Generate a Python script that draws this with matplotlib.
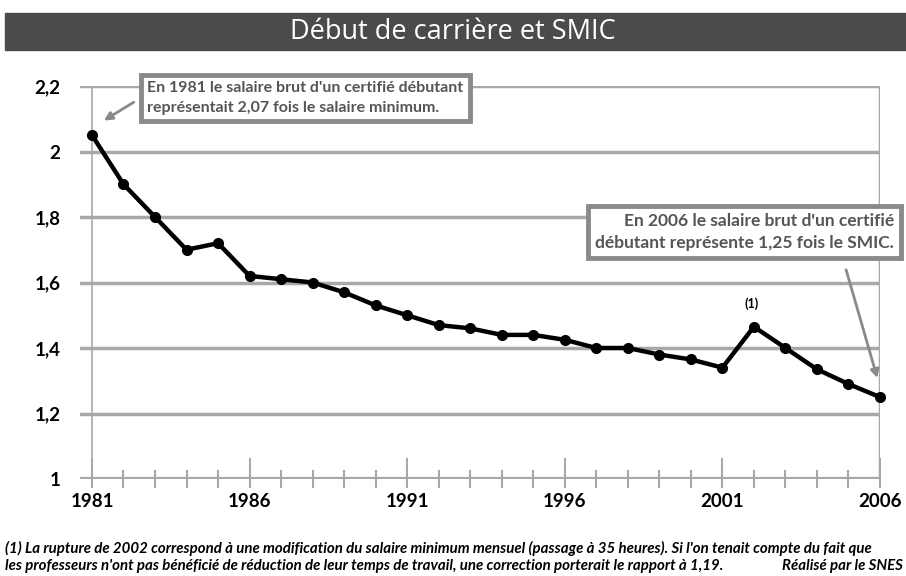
import matplotlib
matplotlib.use("Agg")
import matplotlib.pyplot as plt
from matplotlib.patches import Rectangle

# ratio salaire brut certifie debutant / SMIC
years = list(range(1981, 2007))
ratio = [2.05, 1.90, 1.80, 1.70, 1.72, 1.62, 1.61, 1.60, 1.57, 1.53,
         1.50, 1.47, 1.46, 1.44, 1.44, 1.425, 1.40, 1.40, 1.38, 1.365,
         1.34, 1.465, 1.40, 1.335, 1.29, 1.25]
xticks = [1981, 1986, 1991, 1996, 2001, 2006]
yticks = [1, 1.2, 1.4, 1.6, 1.8, 2, 2.2]
ylabels = ["1", "1,2", "1,4", "1,6", "1,8", "2", "2,2"]

title = "Début de carrière et SMIC"
note1 = "En 1981 le salaire brut d'un certifié débutant\nreprésentait 2,07 fois le salaire minimum."
note2 = "En 2006 le salaire brut d'un certifié\ndébutant représente 1,25 fois le SMIC."
foot1 = ("(1) La rupture de 2002 correspond à une modification du salaire minimum mensuel "
         "(passage à 35 heures). Si l'on tenait compte du fait que")
foot2 = ("les professeurs n'ont pas bénéficié de réduction de leur temps de travail, "
         "une correction porterait le rapport à 1,19.")

plt.rcParams['font.family'] = ['Lato', 'DejaVu Sans']
grid_col = "#a8a8a8"

fig = plt.figure(figsize=(9.06, 5.76), dpi=100)
fig.patch.set_facecolor("white")

# bandeau titre
fig.patches.append(Rectangle((5 / 906, 1 - 50 / 576), 901 / 906, 37 / 576,
                             transform=fig.transFigure, color="#4b4b4b", zorder=0))
fig.text(0.5, 1 - 32 / 576, title, color="white", fontsize=19.5,
         family=['Open Sans', 'DejaVu Sans'], ha="center", va="center")

ax = fig.add_axes([80 / 906, 1 - 479 / 576, 800 / 906, 393 / 576])
ax.set_xlim(1980.62, 2006)
ax.set_ylim(1, 2.2)
for s in ax.spines.values():
    s.set_visible(False)

for v in yticks[1:]:
    ax.axhline(v, color=grid_col, lw=2.5, zorder=1)
ax.axhline(1, color=grid_col, lw=3, zorder=1)
ax.axvline(1981, color=grid_col, lw=1.2, zorder=1)
ax.axvline(2006, color=grid_col, lw=2.5, zorder=1)

# petites graduations annuelles sur l'axe
for y in years:
    big = y in xticks
    ax.plot([y, y], [1 - 0.025, 1 + (0.06 if big else 0.025)], color=grid_col,
            lw=1.5, zorder=1, clip_on=False)

ax.plot(years, ratio, color="black", lw=3.2, marker="o", ms=7, zorder=3,
        clip_on=False)

ax.set_xticks(xticks)
ax.set_xticklabels([str(x) for x in xticks], fontsize=13.5, fontweight="bold")
ax.set_yticks(yticks)
ax.set_yticklabels(ylabels, fontsize=13.5, fontweight="bold")
ax.tick_params(length=0, pad=10)
ax.tick_params(axis="y", pad=14)

box = dict(boxstyle="square,pad=0.4", fc="white", ec="#8a8a8a", lw=3.5)
arrow = dict(arrowstyle="-|>", color="#8a8a8a", lw=2, mutation_scale=12)

ax.annotate("", xy=(1981.3, 2.09), xytext=(1982.4, 2.155),
            arrowprops=arrow, zorder=4)
ax.text(1982.75, 2.163, note1, fontsize=11.5, fontweight="bold", color="#555555",
        ha="left", va="center", bbox=box, zorder=5, linespacing=1.5)

ax.annotate("", xy=(2005.94, 1.30), xytext=(2004.9, 1.647),
            arrowprops=arrow, zorder=4)
ax.text(2006.45, 1.754, note2, fontsize=12.5, fontweight="bold", color="#555555",
        ha="right", va="center", bbox=box, zorder=5, linespacing=1.45)

ax.text(2001.94, 1.535, "(1)", fontsize=9, fontweight="bold", ha="center", va="center")

fig.text(5 / 906, 1 - 548 / 576, foot1, fontsize=10.8, style="italic",
         fontweight="bold", ha="left", va="center")
fig.text(5 / 906, 1 - 566 / 576, foot2, fontsize=10.8, style="italic",
         fontweight="bold", ha="left", va="center")
fig.text(903 / 906, 1 - 566 / 576, "Réalisé par le SNES", fontsize=10.8,
         style="italic", fontweight="bold", ha="right", va="center")

fig.savefig("out.png", dpi=100)
